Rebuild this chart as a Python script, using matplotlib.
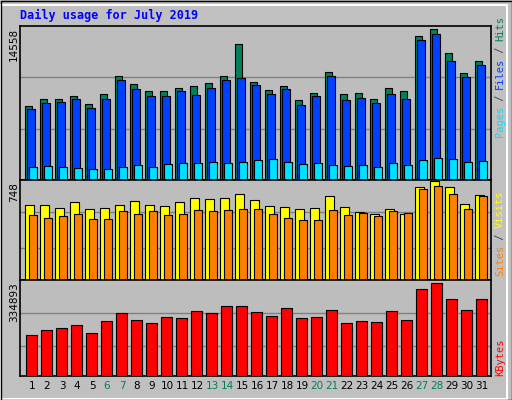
import numpy as np
import matplotlib.pyplot as plt

# values
days = np.arange(1, 32)
hits = [7150, 7840, 7840, 8140, 7350, 8330, 10010, 9220, 8530, 8530, 8830, 9030, 9320, 10010,
        13100, 9420, 8630, 9030, 7740, 8430, 10410, 8330, 8430, 7840, 8830, 8530, 13880, 14558,
        12270, 10310, 11500]
files = [6850, 7440, 7540, 7840, 6950, 7840, 9620, 8730, 8140, 8140, 8530, 8230, 8830, 9620,
         9810, 9130, 8330, 8730, 7250, 8140, 10010, 7740, 7940, 7440, 8330, 7840, 13490, 14080,
         11500, 9910, 11100]
pages = [1220, 1320, 1220, 1120, 1020, 1020, 1220, 1420, 1220, 1520, 1610, 1610, 1710, 1610,
         1710, 1910, 2010, 1710, 1520, 1610, 1420, 1320, 1420, 1220, 1610, 1420, 1910, 2110,
         2010, 1710, 1810]
visits = [570, 570, 545, 586, 537, 545, 570, 594, 570, 562, 586, 619, 611, 619, 651, 602, 562,
          554, 537, 545, 635, 554, 513, 497, 537, 497, 700, 748, 700, 578, 643]
sites = [489, 472, 481, 497, 465, 465, 521, 497, 521, 489, 497, 529, 521, 529, 537, 537, 497,
         472, 457, 457, 529, 489, 505, 481, 521, 505, 691, 707, 651, 537, 635]
kbytes = [148000, 166000, 174000, 185000, 156000, 199000, 228000, 202000, 191000, 213000,
          210000, 235000, 228000, 254000, 254000, 232000, 217000, 247000, 210000, 213000,
          239000, 191000, 199000, 195000, 235000, 202000, 316000, 334893, 280000, 239000, 280000]
weekend = [6, 7, 13, 14, 20, 21, 27, 28]

W, H = 512, 400
fig = plt.figure(figsize=(W / 100, H / 100), dpi=100, facecolor='#c0c0c0')
x0 = days - 1


def make_ax(top, bottom):
    ax = fig.add_axes([20 / W, 1 - bottom / H, 471 / W, (bottom - top) / H], facecolor='#bdbdbd')
    ax.set_xlim(0, 31.4)
    ax.set_xticks([])
    ax.set_yticks([])
    for s in ax.spines.values():
        s.set_color('black')
        s.set_linewidth(1.2)
    return ax


def bars(ax, left, right, vals, color):
    ax.bar(x0 + left, vals, width=right - left, align='edge', color=color,
           edgecolor='black', linewidth=0.8, zorder=3)


# top panel: hits / files / pages
ax1 = make_ax(25.5, 180)
top1 = 14558 * 452 / 442
ax1.set_ylim(0, top1)
for g in (top1 / 3, top1 * 2 / 3):
    ax1.axhline(g, color='#808080', lw=1, zorder=1)
bars(ax1, 0.33, 0.82, hits, '#00805c')
bars(ax1, 0.47, 0.98, files, '#0040ff')
bars(ax1, 0.6, 1.11, pages, '#00e0ff')

# middle panel: visits / sites
ax2 = make_ax(180, 280)
top2 = 748 * 280 / 277
ax2.set_ylim(0, top2)
for g in (top2 * 90 / 280, top2 * 190 / 280):
    ax2.axhline(g, color='#808080', lw=1, zorder=1)
bars(ax2, 0.33, 0.93, visits, '#ffff00')
bars(ax2, 0.6, 1.11, sites, '#ff8000')

# bottom panel: kbytes
ax3 = make_ax(280, 376)
top3 = 334893 * 284 / 274
ax3.set_ylim(0, top3)
for g in (top3 * 90 / 284, top3 * 187 / 284):
    ax3.axhline(g, color='#808080', lw=1, zorder=1)
bars(ax3, 0.4, 1.11, kbytes, '#ff0000')

for d in days:
    c = '#00805c' if d in weekend else 'black'
    ax3.text(d - 1 + 0.8, -0.05, str(d), transform=ax3.get_xaxis_transform(),
             ha='center', va='top', fontsize=7.5, color=c)

# y max labels
mono = 'DejaVu Sans Mono'
fig.text(14 / W, 1 - 28 / H, '14558', rotation=90, ha='center', va='top', fontsize=7.5)
fig.text(14 / W, 1 - 182 / H, '748', rotation=90, ha='center', va='top', fontsize=7.5)
fig.text(14 / W, 1 - 282 / H, '334893', rotation=90, ha='center', va='top', fontsize=7.5)

# right side legends (bottom to top)
def side(parts, y_bottom):
    y = y_bottom
    for txt, col in parts:
        t = fig.text(500 / W, 1 - y / H, txt, rotation=90, ha='center', va='bottom',
                     fontsize=7.5, family=mono, color=col)
        y -= len(txt) * 6.0


side([('Pages', '#00e0ff'), (' / ', '#404040'), ('Files', '#0040ff'),
      (' / ', '#404040'), ('Hits', '#00805c')], 137)
side([('Sites', '#ff8000'), (' / ', '#404040'), ('Visits', '#ffff00')], 276)
side([('KBytes', '#ff0000')], 376)

fig.text(20 / W, 1 - 15 / H, 'Daily usage for July 2019', family=mono, fontweight='bold',
         fontsize=8.5, color='#0000ff', va='center')

# outer frame
fig.patches.append(plt.Rectangle((1 / W, 1 / H), 1 - 6 / W, 1 - 6 / H, transform=fig.transFigure,
                                 fill=False, edgecolor='white', lw=1.5))
fig.patches.append(plt.Rectangle((0.5 / W, 0.5 / H), 1 - 1 / W, 1 - 1 / H, transform=fig.transFigure,
                                 fill=False, edgecolor='black', lw=1))

plt.savefig('out.png', dpi=100, facecolor=fig.get_facecolor())
